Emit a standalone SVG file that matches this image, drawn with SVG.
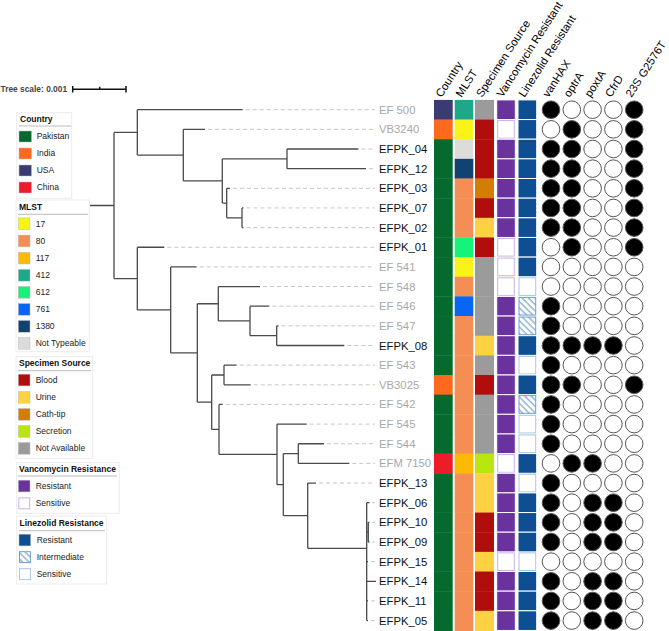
<svg xmlns="http://www.w3.org/2000/svg" width="669" height="631" viewBox="0 0 669 631">
<style>
.br{fill:none;stroke:#4a4a4a;stroke-width:1.3}
.ld{stroke:#c6c6c6;stroke-width:1;stroke-dasharray:4 3}
.lb{font-family:"Liberation Sans",Arial,sans-serif;font-size:11.3px}
.k{fill:#111}.g{fill:#a8a8a8}
.hd{font-family:"Liberation Sans",Arial,sans-serif;font-size:11.3px;fill:#000}
.cf{fill:#000;stroke:#555;stroke-width:1}
.ce{fill:#fff;stroke:#555;stroke-width:1}
.vr{fill:#6a329f;stroke:#fff;stroke-width:1}
.vs{fill:#fff;stroke:#c9b4e0;stroke-width:1}
.lr{fill:#0e4f93;stroke:#fff;stroke-width:1}
.ls{fill:#fff;stroke:#a9c6e0;stroke-width:1}
.li{fill:url(#hatch);stroke:#6c9fd0;stroke-width:1}
.pk{fill:#046a2e}.in{fill:#fd6a1e}.us{fill:#3b3b73}.cn{fill:#ec1c2b}
.m17{fill:#f8f318}.m80{fill:#f48e55}.m117{fill:#feba00}.m412{fill:#1ea78a}.m612{fill:#15f478}.m761{fill:#0866f6}.m1380{fill:#12426f}.mnt{fill:#dcdcdc}
.bl{fill:#b10d0c}.ur{fill:#fdd242}.ct{fill:#d27d03}.se{fill:#b9e60f}.na{fill:#9b9b9b}
.lg{font-family:"Liberation Sans",Arial,sans-serif;font-size:8.5px;fill:#222}
.lt{font-weight:bold;fill:#111}
.lbox{fill:#fff;stroke:#ececec;stroke-width:1}
.ul{stroke:#aaa;stroke-width:0.8}
.sw{stroke:#bbb;stroke-width:0.5}
</style>
<defs>
<pattern id="hatch" patternUnits="userSpaceOnUse" width="4.5" height="4.5" patternTransform="rotate(-45)">
<rect width="4.5" height="4.5" fill="#fff"/>
<line x1="1" y1="0" x2="1" y2="4.5" stroke="#5a8fc6" stroke-width="1"/>
</pattern>
</defs>
<rect width="669" height="631" fill="#fff"/>

<g id="scale">
<text x="0.5" y="92.3" font-family="Liberation Sans,Arial,sans-serif" font-size="8.4" font-weight="bold" fill="#444">Tree scale: 0.001</text>
<path d="M72.7 89.3H126M72.7 86V92.6M126 86V92.6M99.7 86.8V89.3" stroke="#111" stroke-width="1.5" fill="none"/>
</g>

<g id="legend-country" class="lg">
<rect class="lbox" x="16.7" y="112.7" width="55" height="85.6"/>
<text class="lt" x="20" y="122.3">Country</text>
<line class="ul" x1="19" y1="126" x2="71" y2="126"/>
<rect class="pk sw" x="19" y="131" width="12.5" height="11"/><text x="36.7" y="139.3">Pakistan</text>
<rect class="in sw" x="19" y="148" width="12.5" height="11"/><text x="36.7" y="156.3">India</text>
<rect class="us sw" x="19" y="165" width="12.5" height="11"/><text x="36.7" y="173.3">USA</text>
<rect class="cn sw" x="19" y="182" width="12.5" height="11"/><text x="36.7" y="190.3">China</text>
</g>

<g id="legend-mlst" class="lg">
<rect class="lbox" x="16" y="200" width="73.3" height="151.7"/>
<text class="lt" x="19" y="209.7">MLST</text>
<line class="ul" x1="18" y1="214.3" x2="88" y2="214.3"/>
<rect class="m17 sw" x="18.3" y="217.9" width="11.7" height="11.7"/><text x="35.7" y="226.7">17</text>
<rect class="m80 sw" x="18.3" y="235.1" width="11.7" height="11.7"/><text x="35.7" y="243.9">80</text>
<rect class="m117 sw" x="18.3" y="252.3" width="11.7" height="11.7"/><text x="35.7" y="261.1">117</text>
<rect class="m412 sw" x="18.3" y="269.4" width="11.7" height="11.7"/><text x="35.7" y="278.2">412</text>
<rect class="m612 sw" x="18.3" y="286.5" width="11.7" height="11.7"/><text x="35.7" y="295.3">612</text>
<rect class="m761 sw" x="18.3" y="303.5" width="11.7" height="11.7"/><text x="35.7" y="312.3">761</text>
<rect class="m1380 sw" x="18.3" y="320.5" width="11.7" height="11.7"/><text x="35.7" y="329.3">1380</text>
<rect class="mnt sw" x="18.3" y="337.5" width="11.7" height="11.7"/><text x="35.7" y="346.3">Not Typeable</text>
</g>

<g id="legend-specimen" class="lg">
<rect class="lbox" x="16" y="356.7" width="76.7" height="101.6"/>
<text class="lt" x="19" y="366.3">Specimen Source</text>
<line class="ul" x1="18" y1="370.7" x2="91" y2="370.7"/>
<rect class="bl sw" x="18.3" y="374.2" width="11.7" height="11.7"/><text x="35.7" y="383">Blood</text>
<rect class="ur sw" x="18.3" y="391.5" width="11.7" height="11.7"/><text x="35.7" y="400.3">Urine</text>
<rect class="ct sw" x="18.3" y="408.5" width="11.7" height="11.7"/><text x="35.7" y="417.3">Cath-tip</text>
<rect class="se sw" x="18.3" y="425.5" width="11.7" height="11.7"/><text x="35.7" y="434.3">Secretion</text>
<rect class="na sw" x="18.3" y="442.5" width="11.7" height="11.7"/><text x="35.7" y="451.3">Not Available</text>
</g>

<g id="legend-vanco" class="lg">
<rect class="lbox" x="16.7" y="462.7" width="102.6" height="50.6"/>
<text class="lt" x="19" y="472">Vancomycin Resistance</text>
<line class="ul" x1="18" y1="476" x2="117" y2="476"/>
<rect x="18.3" y="480.2" width="11.7" height="11.7" fill="#6a329f" stroke="#bbb" stroke-width="0.5"/><text x="35.7" y="489">Resistant</text>
<rect x="18.8" y="497.9" width="10.9" height="10.9" fill="#fff" stroke="#c9b4e0" stroke-width="1"/><text x="35.7" y="506.3">Sensitive</text>
</g>

<g id="legend-linezolid" class="lg">
<rect class="lbox" x="16.7" y="516" width="90" height="68"/>
<text class="lt" x="19.5" y="525.7">Linezolid Resistance</text>
<line class="ul" x1="19" y1="530.7" x2="105" y2="530.7"/>
<rect x="19" y="534.2" width="11.7" height="11.7" fill="#0e4f93" stroke="#bbb" stroke-width="0.5"/><text x="36.7" y="543">Resistant</text>
<rect x="19.5" y="551.7" width="10.9" height="10.9" class="li"/><text x="36.7" y="560">Intermediate</text>
<rect x="19.5" y="568.7" width="10.9" height="10.9" class="ls"/><text x="36.7" y="577">Sensitive</text>
</g>

<g id="headers" class="hd">
<text transform="translate(441.5 98) rotate(-57)">Country</text>
<text transform="translate(461.5 98) rotate(-57)">MLST</text>
<text transform="translate(482 98) rotate(-57)">Specimen Source</text>
<text transform="translate(502.5 98) rotate(-57)">Vancomycin Resistant</text>
<text transform="translate(524.5 98) rotate(-57)">Linezolid Resistant</text>
<text transform="translate(548.5 98) rotate(-57)">vanHAX</text>
<text transform="translate(569.5 98) rotate(-57)">optrA</text>
<text transform="translate(590.5 98) rotate(-57)">poxtA</text>
<text transform="translate(611 98) rotate(-57)">CfrD</text>
<text transform="translate(631.5 98) rotate(-57)">23S G2576T</text>
</g>

<g id="connectors">
<path class="br" d="M90 205.5H114M114 132.4V278.6
M114 132.4H137.3M137.3 109.7V155.1M137.3 109.7H242.7
M137.3 155.1H183.3M183.3 129.35V180.9M183.3 129.35H205
M183.3 180.9H222.3M222.3 158.8V203.05
M222.3 158.8H287M287 149V168.65M287 149H358.3M287 168.65H366
M222.3 203.05H226.7M226.7 188.3V217.8M226.7 188.3H230
M226.7 217.8H242M242 207.95V227.6M242 207.95H243.5M242 227.6H243.5
M114 278.6H137.3M137.3 247.25V309.9M137.3 247.25H164.3
M137.3 309.9H170.7M170.7 266.9V352.97M170.7 266.9H196.7
M170.7 352.97H197.3M197.3 303.75V402.2
M197.3 303.75H218.3M218.3 286.55V320.95M218.3 286.55H260
M218.3 320.95H250M250 306.2V335.7M250 306.2H269.3
M250 335.7H276.7M276.7 325.85V345.5M276.7 325.85H278.5M276.7 345.5H344.3
M197.3 402.2H211.7M211.7 374.98V429.4
M211.7 374.98H224M224 365.15V384.8M224 365.15H236.7M224 384.8H250.7
M211.7 429.4H219M219 404.45V454.4M219 404.45H222.7
M219 454.4H277M277 424.1V484.65M277 424.1H306.7
M277 484.65H283.3M283.3 453.6V515.7
M283.3 453.6H298.3M298.3 443.75V463.4M298.3 443.75H324M298.3 463.4H349.3
M283.3 515.7H307.7M307.7 483.05V548.3M307.7 483.05H316
M307.7 548.3H366.7M366.7 502.7V620.6M366.7 502.7H369.5
M366.7 532.2H368.3M368.3 522.35V542M368.3 522.35H369.5M368.3 542H369.5
M366.7 561.65H368M366.7 581.3H376M366.7 600.95H368M366.7 620.6H368"/>
<path class="ld" d="M245.7 109.7H375M208 129.35H375M361.3 149H375M369 168.65H375M233 188.3H375M246.5 207.95H375M246.5 227.6H375M167.3 247.25H375M199.7 266.9H375M263 286.55H375M272.3 306.2H375M281.5 325.85H375M347.3 345.5H375M239.7 365.15H375M253.7 384.8H375M225.7 404.45H375M309.7 424.1H375M327 443.75H375M352.3 463.4H375M319 483.05H375M372 502.7H375M372 522.35H375M372 542H375M371 561.65H375M371 600.95H375M371 620.6H375"/>
</g>

<g id="n-EF500"><text class="lb g" x="379" y="113.7">EF 500</text>
<rect class="us" x="434" y="99.9" width="18.7" height="20"/><rect class="m412" x="454.7" y="99.9" width="18.6" height="20"/><rect class="na" x="475" y="99.9" width="19" height="20"/>
<rect class="vr" x="496.7" y="99.9" width="18.6" height="19.65"/><rect class="lr" x="518" y="99.9" width="18.7" height="19.65"/>
<circle class="cf" cx="551" cy="109.7" r="8.8"/><circle class="ce" cx="571.8" cy="109.7" r="8.8"/><circle class="ce" cx="592.6" cy="109.7" r="8.8"/><circle class="ce" cx="613.4" cy="109.7" r="8.8"/><circle class="cf" cx="634.2" cy="109.7" r="8.8"/></g>

<g id="n-VB3240"><text class="lb g" x="379" y="133.35">VB3240</text>
<rect class="in" x="434" y="119.55" width="18.7" height="20"/><rect class="m17" x="454.7" y="119.55" width="18.6" height="20"/><rect class="bl" x="475" y="119.55" width="19" height="20"/>
<rect class="vs" x="497.7" y="120.55" width="16.6" height="17.65"/><rect class="lr" x="518" y="119.55" width="18.7" height="19.65"/>
<circle class="ce" cx="551" cy="129.35" r="8.8"/><circle class="cf" cx="571.8" cy="129.35" r="8.8"/><circle class="ce" cx="592.6" cy="129.35" r="8.8"/><circle class="ce" cx="613.4" cy="129.35" r="8.8"/><circle class="cf" cx="634.2" cy="129.35" r="8.8"/></g>

<g id="n-EFPK_04"><text class="lb k" x="379" y="153">EFPK_04</text>
<rect class="pk" x="434" y="139.2" width="18.7" height="20"/><rect class="mnt" x="454.7" y="139.2" width="18.6" height="20"/><rect class="bl" x="475" y="139.2" width="19" height="20"/>
<rect class="vr" x="496.7" y="139.2" width="18.6" height="19.65"/><rect class="lr" x="518" y="139.2" width="18.7" height="19.65"/>
<circle class="cf" cx="551" cy="149" r="8.8"/><circle class="cf" cx="571.8" cy="149" r="8.8"/><circle class="ce" cx="592.6" cy="149" r="8.8"/><circle class="ce" cx="613.4" cy="149" r="8.8"/><circle class="cf" cx="634.2" cy="149" r="8.8"/></g>

<g id="n-EFPK_12"><text class="lb k" x="379" y="172.65">EFPK_12</text>
<rect class="pk" x="434" y="158.85" width="18.7" height="20"/><rect class="m1380" x="454.7" y="158.85" width="18.6" height="20"/><rect class="bl" x="475" y="158.85" width="19" height="20"/>
<rect class="vr" x="496.7" y="158.85" width="18.6" height="19.65"/><rect class="lr" x="518" y="158.85" width="18.7" height="19.65"/>
<circle class="cf" cx="551" cy="168.65" r="8.8"/><circle class="cf" cx="571.8" cy="168.65" r="8.8"/><circle class="ce" cx="592.6" cy="168.65" r="8.8"/><circle class="ce" cx="613.4" cy="168.65" r="8.8"/><circle class="cf" cx="634.2" cy="168.65" r="8.8"/></g>

<g id="n-EFPK_03"><text class="lb k" x="379" y="192.3">EFPK_03</text>
<rect class="pk" x="434" y="178.5" width="18.7" height="20"/><rect class="m80" x="454.7" y="178.5" width="18.6" height="20"/><rect class="ct" x="475" y="178.5" width="19" height="20"/>
<rect class="vr" x="496.7" y="178.5" width="18.6" height="19.65"/><rect class="lr" x="518" y="178.5" width="18.7" height="19.65"/>
<circle class="cf" cx="551" cy="188.3" r="8.8"/><circle class="cf" cx="571.8" cy="188.3" r="8.8"/><circle class="ce" cx="592.6" cy="188.3" r="8.8"/><circle class="ce" cx="613.4" cy="188.3" r="8.8"/><circle class="cf" cx="634.2" cy="188.3" r="8.8"/></g>

<g id="n-EFPK_07"><text class="lb k" x="379" y="211.95">EFPK_07</text>
<rect class="pk" x="434" y="198.15" width="18.7" height="20"/><rect class="m80" x="454.7" y="198.15" width="18.6" height="20"/><rect class="bl" x="475" y="198.15" width="19" height="20"/>
<rect class="vr" x="496.7" y="198.15" width="18.6" height="19.65"/><rect class="lr" x="518" y="198.15" width="18.7" height="19.65"/>
<circle class="cf" cx="551" cy="207.95" r="8.8"/><circle class="cf" cx="571.8" cy="207.95" r="8.8"/><circle class="ce" cx="592.6" cy="207.95" r="8.8"/><circle class="ce" cx="613.4" cy="207.95" r="8.8"/><circle class="cf" cx="634.2" cy="207.95" r="8.8"/></g>

<g id="n-EFPK_02"><text class="lb k" x="379" y="231.6">EFPK_02</text>
<rect class="pk" x="434" y="217.8" width="18.7" height="20"/><rect class="m80" x="454.7" y="217.8" width="18.6" height="20"/><rect class="ur" x="475" y="217.8" width="19" height="20"/>
<rect class="vr" x="496.7" y="217.8" width="18.6" height="19.65"/><rect class="lr" x="518" y="217.8" width="18.7" height="19.65"/>
<circle class="cf" cx="551" cy="227.6" r="8.8"/><circle class="cf" cx="571.8" cy="227.6" r="8.8"/><circle class="ce" cx="592.6" cy="227.6" r="8.8"/><circle class="ce" cx="613.4" cy="227.6" r="8.8"/><circle class="cf" cx="634.2" cy="227.6" r="8.8"/></g>

<g id="n-EFPK_01"><text class="lb k" x="379" y="251.25">EFPK_01</text>
<rect class="pk" x="434" y="237.45" width="18.7" height="20"/><rect class="m612" x="454.7" y="237.45" width="18.6" height="20"/><rect class="bl" x="475" y="237.45" width="19" height="20"/>
<rect class="vs" x="497.7" y="238.45" width="16.6" height="17.65"/><rect class="lr" x="518" y="237.45" width="18.7" height="19.65"/>
<circle class="ce" cx="551" cy="247.25" r="8.8"/><circle class="cf" cx="571.8" cy="247.25" r="8.8"/><circle class="ce" cx="592.6" cy="247.25" r="8.8"/><circle class="ce" cx="613.4" cy="247.25" r="8.8"/><circle class="cf" cx="634.2" cy="247.25" r="8.8"/></g>

<g id="n-EF541"><text class="lb g" x="379" y="270.9">EF 541</text>
<rect class="pk" x="434" y="257.1" width="18.7" height="20"/><rect class="m17" x="454.7" y="257.1" width="18.6" height="20"/><rect class="na" x="475" y="257.1" width="19" height="20"/>
<rect class="vs" x="497.7" y="258.1" width="16.6" height="17.65"/><rect class="lr" x="518" y="257.1" width="18.7" height="19.65"/>
<circle class="ce" cx="551" cy="266.9" r="8.8"/><circle class="ce" cx="571.8" cy="266.9" r="8.8"/><circle class="ce" cx="592.6" cy="266.9" r="8.8"/><circle class="ce" cx="613.4" cy="266.9" r="8.8"/><circle class="ce" cx="634.2" cy="266.9" r="8.8"/></g>

<g id="n-EF548"><text class="lb g" x="379" y="290.55">EF 548</text>
<rect class="pk" x="434" y="276.75" width="18.7" height="20"/><rect class="m80" x="454.7" y="276.75" width="18.6" height="20"/><rect class="na" x="475" y="276.75" width="19" height="20"/>
<rect class="vs" x="497.7" y="277.75" width="16.6" height="17.65"/><rect class="ls" x="519" y="277.75" width="16.7" height="17.65"/>
<circle class="ce" cx="551" cy="286.55" r="8.8"/><circle class="ce" cx="571.8" cy="286.55" r="8.8"/><circle class="ce" cx="592.6" cy="286.55" r="8.8"/><circle class="ce" cx="613.4" cy="286.55" r="8.8"/><circle class="ce" cx="634.2" cy="286.55" r="8.8"/></g>

<g id="n-EF546"><text class="lb g" x="379" y="310.2">EF 546</text>
<rect class="pk" x="434" y="296.4" width="18.7" height="20"/><rect class="m761" x="454.7" y="296.4" width="18.6" height="20"/><rect class="na" x="475" y="296.4" width="19" height="20"/>
<rect class="vr" x="496.7" y="296.4" width="18.6" height="19.65"/><rect class="li" x="519" y="297.4" width="16.7" height="17.65"/>
<circle class="cf" cx="551" cy="306.2" r="8.8"/><circle class="ce" cx="571.8" cy="306.2" r="8.8"/><circle class="ce" cx="592.6" cy="306.2" r="8.8"/><circle class="ce" cx="613.4" cy="306.2" r="8.8"/><circle class="ce" cx="634.2" cy="306.2" r="8.8"/></g>

<g id="n-EF547"><text class="lb g" x="379" y="329.85">EF 547</text>
<rect class="pk" x="434" y="316.05" width="18.7" height="20"/><rect class="m80" x="454.7" y="316.05" width="18.6" height="20"/><rect class="na" x="475" y="316.05" width="19" height="20"/>
<rect class="vr" x="496.7" y="316.05" width="18.6" height="19.65"/><rect class="li" x="519" y="317.05" width="16.7" height="17.65"/>
<circle class="cf" cx="551" cy="325.85" r="8.8"/><circle class="ce" cx="571.8" cy="325.85" r="8.8"/><circle class="ce" cx="592.6" cy="325.85" r="8.8"/><circle class="ce" cx="613.4" cy="325.85" r="8.8"/><circle class="ce" cx="634.2" cy="325.85" r="8.8"/></g>

<g id="n-EFPK_08"><text class="lb k" x="379" y="349.5">EFPK_08</text>
<rect class="pk" x="434" y="335.7" width="18.7" height="20"/><rect class="m80" x="454.7" y="335.7" width="18.6" height="20"/><rect class="ur" x="475" y="335.7" width="19" height="20"/>
<rect class="vr" x="496.7" y="335.7" width="18.6" height="19.65"/><rect class="lr" x="518" y="335.7" width="18.7" height="19.65"/>
<circle class="cf" cx="551" cy="345.5" r="8.8"/><circle class="cf" cx="571.8" cy="345.5" r="8.8"/><circle class="cf" cx="592.6" cy="345.5" r="8.8"/><circle class="cf" cx="613.4" cy="345.5" r="8.8"/><circle class="ce" cx="634.2" cy="345.5" r="8.8"/></g>

<g id="n-EF543"><text class="lb g" x="379" y="369.15">EF 543</text>
<rect class="pk" x="434" y="355.35" width="18.7" height="20"/><rect class="m80" x="454.7" y="355.35" width="18.6" height="20"/><rect class="na" x="475" y="355.35" width="19" height="20"/>
<rect class="vr" x="496.7" y="355.35" width="18.6" height="19.65"/><rect class="ls" x="519" y="356.35" width="16.7" height="17.65"/>
<circle class="cf" cx="551" cy="365.15" r="8.8"/><circle class="ce" cx="571.8" cy="365.15" r="8.8"/><circle class="ce" cx="592.6" cy="365.15" r="8.8"/><circle class="ce" cx="613.4" cy="365.15" r="8.8"/><circle class="ce" cx="634.2" cy="365.15" r="8.8"/></g>

<g id="n-VB3025"><text class="lb g" x="379" y="388.8">VB3025</text>
<rect class="in" x="434" y="375" width="18.7" height="20"/><rect class="m80" x="454.7" y="375" width="18.6" height="20"/><rect class="bl" x="475" y="375" width="19" height="20"/>
<rect class="vr" x="496.7" y="375" width="18.6" height="19.65"/><rect class="lr" x="518" y="375" width="18.7" height="19.65"/>
<circle class="cf" cx="551" cy="384.8" r="8.8"/><circle class="cf" cx="571.8" cy="384.8" r="8.8"/><circle class="ce" cx="592.6" cy="384.8" r="8.8"/><circle class="ce" cx="613.4" cy="384.8" r="8.8"/><circle class="cf" cx="634.2" cy="384.8" r="8.8"/></g>

<g id="n-EF542"><text class="lb g" x="379" y="408.45">EF 542</text>
<rect class="pk" x="434" y="394.65" width="18.7" height="20"/><rect class="m80" x="454.7" y="394.65" width="18.6" height="20"/><rect class="na" x="475" y="394.65" width="19" height="20"/>
<rect class="vr" x="496.7" y="394.65" width="18.6" height="19.65"/><rect class="li" x="519" y="395.65" width="16.7" height="17.65"/>
<circle class="cf" cx="551" cy="404.45" r="8.8"/><circle class="ce" cx="571.8" cy="404.45" r="8.8"/><circle class="ce" cx="592.6" cy="404.45" r="8.8"/><circle class="ce" cx="613.4" cy="404.45" r="8.8"/><circle class="ce" cx="634.2" cy="404.45" r="8.8"/></g>

<g id="n-EF545"><text class="lb g" x="379" y="428.1">EF 545</text>
<rect class="pk" x="434" y="414.3" width="18.7" height="20"/><rect class="m80" x="454.7" y="414.3" width="18.6" height="20"/><rect class="na" x="475" y="414.3" width="19" height="20"/>
<rect class="vr" x="496.7" y="414.3" width="18.6" height="19.65"/><rect class="ls" x="519" y="415.3" width="16.7" height="17.65"/>
<circle class="cf" cx="551" cy="424.1" r="8.8"/><circle class="ce" cx="571.8" cy="424.1" r="8.8"/><circle class="ce" cx="592.6" cy="424.1" r="8.8"/><circle class="ce" cx="613.4" cy="424.1" r="8.8"/><circle class="ce" cx="634.2" cy="424.1" r="8.8"/></g>

<g id="n-EF544"><text class="lb g" x="379" y="447.75">EF 544</text>
<rect class="pk" x="434" y="433.95" width="18.7" height="20"/><rect class="m80" x="454.7" y="433.95" width="18.6" height="20"/><rect class="na" x="475" y="433.95" width="19" height="20"/>
<rect class="vr" x="496.7" y="433.95" width="18.6" height="19.65"/><rect class="ls" x="519" y="434.95" width="16.7" height="17.65"/>
<circle class="cf" cx="551" cy="443.75" r="8.8"/><circle class="ce" cx="571.8" cy="443.75" r="8.8"/><circle class="ce" cx="592.6" cy="443.75" r="8.8"/><circle class="ce" cx="613.4" cy="443.75" r="8.8"/><circle class="ce" cx="634.2" cy="443.75" r="8.8"/></g>

<g id="n-EFM7150"><text class="lb g" x="379" y="467.4">EFM 7150</text>
<rect class="cn" x="434" y="453.6" width="18.7" height="20"/><rect class="m117" x="454.7" y="453.6" width="18.6" height="20"/><rect class="se" x="475" y="453.6" width="19" height="20"/>
<rect class="vs" x="497.7" y="454.6" width="16.6" height="17.65"/><rect class="lr" x="518" y="453.6" width="18.7" height="19.65"/>
<circle class="ce" cx="551" cy="463.4" r="8.8"/><circle class="cf" cx="571.8" cy="463.4" r="8.8"/><circle class="cf" cx="592.6" cy="463.4" r="8.8"/><circle class="ce" cx="613.4" cy="463.4" r="8.8"/><circle class="ce" cx="634.2" cy="463.4" r="8.8"/></g>

<g id="n-EFPK_13"><text class="lb k" x="379" y="487.05">EFPK_13</text>
<rect class="pk" x="434" y="473.25" width="18.7" height="20"/><rect class="m80" x="454.7" y="473.25" width="18.6" height="20"/><rect class="ur" x="475" y="473.25" width="19" height="20"/>
<rect class="vr" x="496.7" y="473.25" width="18.6" height="19.65"/><rect class="ls" x="519" y="474.25" width="16.7" height="17.65"/>
<circle class="cf" cx="551" cy="483.05" r="8.8"/><circle class="ce" cx="571.8" cy="483.05" r="8.8"/><circle class="ce" cx="592.6" cy="483.05" r="8.8"/><circle class="ce" cx="613.4" cy="483.05" r="8.8"/><circle class="ce" cx="634.2" cy="483.05" r="8.8"/></g>

<g id="n-EFPK_06"><text class="lb k" x="379" y="506.7">EFPK_06</text>
<rect class="pk" x="434" y="492.9" width="18.7" height="20"/><rect class="m80" x="454.7" y="492.9" width="18.6" height="20"/><rect class="ur" x="475" y="492.9" width="19" height="20"/>
<rect class="vr" x="496.7" y="492.9" width="18.6" height="19.65"/><rect class="lr" x="518" y="492.9" width="18.7" height="19.65"/>
<circle class="cf" cx="551" cy="502.7" r="8.8"/><circle class="ce" cx="571.8" cy="502.7" r="8.8"/><circle class="cf" cx="592.6" cy="502.7" r="8.8"/><circle class="cf" cx="613.4" cy="502.7" r="8.8"/><circle class="ce" cx="634.2" cy="502.7" r="8.8"/></g>

<g id="n-EFPK_10"><text class="lb k" x="379" y="526.35">EFPK_10</text>
<rect class="pk" x="434" y="512.55" width="18.7" height="20"/><rect class="m80" x="454.7" y="512.55" width="18.6" height="20"/><rect class="bl" x="475" y="512.55" width="19" height="20"/>
<rect class="vr" x="496.7" y="512.55" width="18.6" height="19.65"/><rect class="lr" x="518" y="512.55" width="18.7" height="19.65"/>
<circle class="cf" cx="551" cy="522.35" r="8.8"/><circle class="ce" cx="571.8" cy="522.35" r="8.8"/><circle class="cf" cx="592.6" cy="522.35" r="8.8"/><circle class="cf" cx="613.4" cy="522.35" r="8.8"/><circle class="ce" cx="634.2" cy="522.35" r="8.8"/></g>

<g id="n-EFPK_09"><text class="lb k" x="379" y="546">EFPK_09</text>
<rect class="pk" x="434" y="532.2" width="18.7" height="20"/><rect class="m80" x="454.7" y="532.2" width="18.6" height="20"/><rect class="bl" x="475" y="532.2" width="19" height="20"/>
<rect class="vr" x="496.7" y="532.2" width="18.6" height="19.65"/><rect class="lr" x="518" y="532.2" width="18.7" height="19.65"/>
<circle class="cf" cx="551" cy="542" r="8.8"/><circle class="ce" cx="571.8" cy="542" r="8.8"/><circle class="cf" cx="592.6" cy="542" r="8.8"/><circle class="cf" cx="613.4" cy="542" r="8.8"/><circle class="ce" cx="634.2" cy="542" r="8.8"/></g>

<g id="n-EFPK_15"><text class="lb k" x="379" y="565.65">EFPK_15</text>
<rect class="pk" x="434" y="551.85" width="18.7" height="20"/><rect class="m80" x="454.7" y="551.85" width="18.6" height="20"/><rect class="ur" x="475" y="551.85" width="19" height="20"/>
<rect class="vs" x="497.7" y="552.85" width="16.6" height="17.65"/><rect class="ls" x="519" y="552.85" width="16.7" height="17.65"/>
<circle class="ce" cx="551" cy="561.65" r="8.8"/><circle class="ce" cx="571.8" cy="561.65" r="8.8"/><circle class="ce" cx="592.6" cy="561.65" r="8.8"/><circle class="ce" cx="613.4" cy="561.65" r="8.8"/><circle class="ce" cx="634.2" cy="561.65" r="8.8"/></g>

<g id="n-EFPK_14"><text class="lb k" x="379" y="585.3">EFPK_14</text>
<rect class="pk" x="434" y="571.5" width="18.7" height="20"/><rect class="m80" x="454.7" y="571.5" width="18.6" height="20"/><rect class="bl" x="475" y="571.5" width="19" height="20"/>
<rect class="vr" x="496.7" y="571.5" width="18.6" height="19.65"/><rect class="lr" x="518" y="571.5" width="18.7" height="19.65"/>
<circle class="cf" cx="551" cy="581.3" r="8.8"/><circle class="ce" cx="571.8" cy="581.3" r="8.8"/><circle class="cf" cx="592.6" cy="581.3" r="8.8"/><circle class="cf" cx="613.4" cy="581.3" r="8.8"/><circle class="ce" cx="634.2" cy="581.3" r="8.8"/></g>

<g id="n-EFPK_11"><text class="lb k" x="379" y="604.95">EFPK_11</text>
<rect class="pk" x="434" y="591.15" width="18.7" height="20"/><rect class="m80" x="454.7" y="591.15" width="18.6" height="20"/><rect class="bl" x="475" y="591.15" width="19" height="20"/>
<rect class="vr" x="496.7" y="591.15" width="18.6" height="19.65"/><rect class="lr" x="518" y="591.15" width="18.7" height="19.65"/>
<circle class="cf" cx="551" cy="600.95" r="8.8"/><circle class="ce" cx="571.8" cy="600.95" r="8.8"/><circle class="cf" cx="592.6" cy="600.95" r="8.8"/><circle class="cf" cx="613.4" cy="600.95" r="8.8"/><circle class="ce" cx="634.2" cy="600.95" r="8.8"/></g>

<g id="n-EFPK_05"><text class="lb k" x="379" y="624.6">EFPK_05</text>
<rect class="pk" x="434" y="610.8" width="18.7" height="20.2"/><rect class="m80" x="454.7" y="610.8" width="18.6" height="20.2"/><rect class="ur" x="475" y="610.8" width="19" height="20.2"/>
<rect class="vr" x="496.7" y="610.8" width="18.6" height="19.65"/><rect class="lr" x="518" y="610.8" width="18.7" height="19.65"/>
<circle class="cf" cx="551" cy="620.6" r="8.8"/><circle class="ce" cx="571.8" cy="620.6" r="8.8"/><circle class="cf" cx="592.6" cy="620.6" r="8.8"/><circle class="cf" cx="613.4" cy="620.6" r="8.8"/><circle class="ce" cx="634.2" cy="620.6" r="8.8"/></g>
</svg>
